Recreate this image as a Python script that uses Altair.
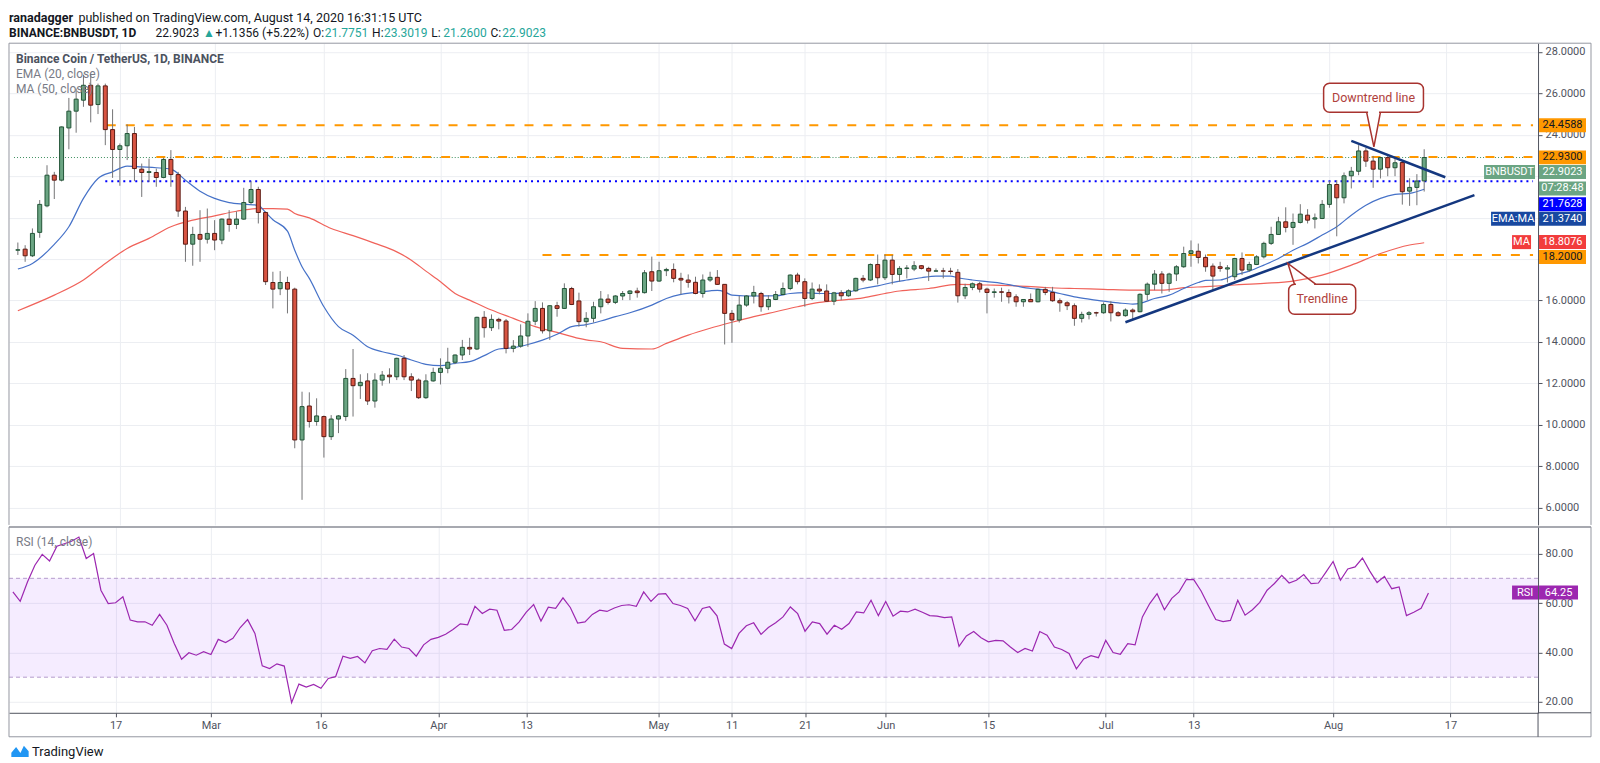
import altair as alt
import pandas as pd

# ------------------------------------------------------------------ data
START_DATE = "2020-02-03"      # first candle
AXIS_ZERO = "2020-02-17"       # day 0 of the x axis

OPEN = [18.43, 18.48, 18.16, 19.29, 20.57, 22.05, 21.81, 24.33, 25.14, 25.67,
        26.39, 25.46, 26.36, 24.25, 23.29, 23.47, 24.06, 22.34, 22.18, 22.18,
        21.94, 22.81, 22.08, 20.32, 18.72, 19.19, 18.96, 19.24, 18.92, 19.93,
        19.67, 19.93, 20.73, 21.36, 20.25, 16.87, 16.57, 16.87, 16.55, 9.27,
        10.91, 10.16, 10.4, 9.43, 10.28, 10.4, 12.24, 11.89, 12.12, 11.15,
        12.16, 12.4, 12.32, 13.21, 12.32, 12.16, 11.31, 12.12, 12.53, 12.73,
        13.02, 13.37, 13.74, 13.66, 15.19, 14.69, 15.09, 15.01, 13.69, 13.8,
        14.29, 15.0, 15.62, 14.54, 15.75, 15.62, 16.58, 15.98, 14.98,
        15.14, 15.7, 16.07, 15.91, 16.22, 16.34, 16.46, 16.38, 17.39, 16.94,
        17.44, 17.5, 17.07, 16.99, 16.88, 16.34, 16.99, 17.12, 16.78, 15.38,
        15.06, 15.78, 16.22, 16.34, 15.7, 16.05, 16.29, 16.58, 17.23, 16.91,
        16.1, 16.55, 16.46, 15.97, 16.37, 16.23, 16.47, 17.07, 16.99, 17.74,
        17.1, 17.95, 17.26,
        17.55, 17.52, 17.68, 17.55, 17.42, 17.43, 17.42, 17.36, 16.23, 16.63,
        16.81, 16.55, 16.39, 16.42, 16.39, 16.18, 15.94, 16.05, 15.94, 16.54,
        16.39, 15.99, 15.89, 15.75, 15.14, 15.33, 15.41, 15.41, 15.81, 15.41,
        15.27, 15.54, 15.46, 16.3, 16.79, 17.28, 16.83, 17.28, 17.63, 18.27,
        18.38, 18.08,
        17.66, 17.63, 17.52, 17.15, 18.03, 17.47, 17.74, 18.11, 18.76, 19.19,
        19.8, 19.53, 19.77, 20.12, 19.93, 19.96, 20.64, 21.6, 20.96, 22.02,
        22.24, 23.22, 22.73, 22.34, 22.9, 22.41, 22.66, 21.28, 21.46, 21.7751]
HIGH = [18.8, 18.67, 19.48, 20.85, 22.53, 22.21, 24.4, 25.78, 26.23, 26.9,
        26.95, 26.47, 26.47, 25.23, 23.58, 24.5, 24.38, 22.61, 22.85, 22.37,
        22.9, 23.26, 22.21, 20.52, 19.56, 20.36, 20.44, 19.88, 19.96, 20.36,
        20.3, 21.44, 21.76, 21.49, 20.3, 17.39, 17.42, 17.15, 16.62, 11.6,
        11.57, 11.28, 10.45, 10.47, 10.47, 12.69, 13.66, 12.44, 12.49, 12.49,
        12.6, 12.73, 13.24, 13.37, 12.49, 12.24, 12.44, 12.76, 13.21, 13.72,
        13.4, 14.1, 14.2, 15.22, 15.49, 15.33, 15.17, 15.11, 14.09, 14.85,
        15.38, 15.97, 15.91, 15.78, 15.94, 16.83, 16.66, 16.38, 15.44,
        15.94, 16.46, 16.3, 16.26, 16.46, 16.5, 16.62, 17.47, 18.12, 17.87,
        17.58, 17.79, 17.34, 17.26, 17.15, 17.26, 17.39, 17.47, 16.78, 15.54,
        16.22, 16.26, 16.71, 16.42, 16.26, 16.46, 16.87, 17.26, 17.34, 17.07,
        16.87, 16.78, 16.78, 16.42, 16.5, 16.54, 17.1, 17.23, 17.79, 18.22,
        18.22, 18.2, 17.66,
        17.71, 17.9, 17.71, 17.63, 17.55, 17.58, 17.58, 17.52, 16.81, 16.87,
        16.9, 16.62, 16.58, 16.62, 16.54, 16.3, 16.07, 16.34, 16.58, 16.66,
        16.66, 16.1, 15.97, 15.86, 15.46, 15.49, 15.46, 15.91, 15.97, 15.49,
        15.62, 15.62, 16.35, 16.87, 17.47, 17.42, 17.34, 17.71, 18.6, 18.9,
        18.75, 18.22,
        17.79, 17.87, 17.71, 18.06, 18.32, 17.87, 18.19, 18.84, 19.56, 20.04,
        20.5, 20.2, 20.65, 20.41, 20.2, 20.85, 21.76, 21.81, 22.18, 22.45,
        23.5, 23.37, 22.98, 22.93, 22.98, 22.9, 22.73, 21.9, 22.1, 23.3019]
LOW = [18.2, 17.87, 18.1, 19.03, 20.5, 20.9, 21.75, 23.3, 24.1, 25.35,
       24.6, 25.0, 23.5, 21.92, 21.54, 22.78, 21.76, 21.0, 21.73, 21.49,
       21.9, 21.49, 20.04, 17.87, 17.68, 17.87, 18.75, 18.43, 18.72, 19.32,
       19.45, 19.9, 20.64, 19.72, 16.75, 15.62, 16.26, 15.38, 8.87, 6.38,
       9.87, 9.96, 8.42, 9.27, 9.6, 10.19, 10.4, 11.25, 10.96, 10.83,
       11.89, 12.0, 12.16, 12.16, 11.63, 11.25, 11.25, 12.08, 11.95, 12.49,
       12.93, 13.13, 13.37, 13.61, 14.21, 14.53, 14.61, 13.45, 13.5, 13.72,
       13.77, 14.81, 14.41, 14.1, 15.22, 15.59, 15.78, 14.74, 14.71,
       14.94, 15.38, 15.81, 15.83, 16.02, 16.02, 16.14, 16.34, 16.46, 16.9,
       17.18, 16.88, 16.3, 16.62, 16.3, 16.14, 16.9, 16.75, 13.88, 13.96,
       14.94, 15.7, 15.86, 15.46, 15.54, 16.02, 16.26, 16.5, 16.78, 15.7,
       16.02, 16.3, 15.94, 15.78, 16.02, 16.18, 16.42, 16.88, 16.94, 16.78,
       16.99, 16.78, 16.91,
       17.07, 17.42, 17.5, 16.94, 17.39, 17.07, 17.26, 15.9, 16.07, 16.5,
       16.39, 15.38, 16.14, 15.94, 15.86, 15.7, 15.7, 15.94, 15.91, 16.26,
       15.94, 15.46, 15.54, 14.78, 14.94, 15.09, 15.23, 15.36, 14.99, 15.23,
       15.22, 15.09, 15.43, 16.02, 16.5, 16.34, 16.42, 16.94, 17.58, 17.63,
       17.79, 17.39,
       16.5, 17.39, 16.87, 16.99, 17.23, 17.39, 17.71, 18.03, 18.68, 19.19,
       19.29, 18.69, 19.72, 19.72, 19.48, 19.93, 20.48, 19.1, 20.69, 21.41,
       22.05, 22.45, 21.44, 21.89, 22.0, 22.0, 20.63, 20.57, 20.6, 21.26]
CLOSE = [18.45, 18.16, 19.24, 20.64, 22.05, 21.81, 24.38, 25.14, 25.72, 26.39,
         25.43, 26.36, 24.25, 23.29, 23.47, 24.06, 22.37, 22.18, 22.22, 21.94,
         22.81, 22.08, 20.32, 18.72, 19.19, 18.96, 19.24, 18.92, 19.93, 19.67,
         19.93, 20.73, 21.36, 20.25, 16.91, 16.55, 16.87, 16.55, 9.27, 10.88,
         10.16, 10.43, 9.43, 10.28, 10.43, 12.24, 11.89, 12.05, 11.15, 12.16,
         12.4, 12.32, 13.21, 12.32, 12.16, 11.31, 12.12, 12.53, 12.73, 13.02,
         13.37, 13.74, 13.66, 15.19, 14.69, 15.09, 15.01, 13.69, 13.8, 14.29,
         15.0, 15.62, 14.54, 15.75, 15.62, 16.58, 15.81, 14.98, 15.14,
         15.7, 16.07, 15.91, 16.22, 16.34, 16.46, 16.38, 17.34, 16.94, 17.44,
         17.5, 17.07, 16.99, 16.88, 16.34, 16.99, 17.12, 16.78, 15.38, 15.06,
         15.78, 16.22, 16.39, 15.7, 16.05, 16.29, 16.58, 17.23, 16.91, 16.1,
         16.55, 16.46, 15.97, 16.37, 16.23, 16.47, 17.07, 16.99, 17.74, 17.1,
         17.95, 17.26, 17.55,
         17.57, 17.68, 17.55, 17.42, 17.43, 17.42, 17.4, 16.23, 16.63, 16.81,
         16.55, 16.39, 16.42, 16.4, 16.18, 15.94, 16.05, 15.94, 16.54, 16.39,
         15.99, 15.89, 15.75, 15.14, 15.33, 15.41, 15.4, 15.81, 15.41, 15.27,
         15.54, 15.46, 16.3, 16.79, 17.28, 16.83, 17.28, 17.63, 18.27, 18.4,
         18.08, 17.63,
         17.18, 17.55, 17.58, 18.03, 17.47, 17.74, 18.11, 18.76, 19.19, 19.8,
         19.53, 19.77, 20.17, 19.88, 19.99, 20.64, 21.6, 20.96, 22.02, 22.24,
         23.22, 22.73, 22.34, 22.9, 22.41, 22.65, 21.25, 21.46, 21.77, 22.9023]

RSI = [64.5, 60.7, 68.6, 75.3, 79.7, 77.0, 83.0, 84.0, 85.0, 86.7,
       78.0, 80.0, 65.2, 59.8, 60.1, 62.5, 53.1, 52.4, 52.4, 51.0,
       55.4, 51.0, 43.6, 37.3, 39.9, 38.9, 40.3, 39.2, 45.3, 44.0,
       45.7, 50.1, 53.3, 47.7, 34.6, 33.5, 35.4, 34.5, 19.7, 27.2,
       26.0, 27.1, 25.5, 29.5, 30.2, 38.5, 37.6, 38.4, 35.8, 40.7,
       41.6, 41.3, 45.4, 42.2, 41.6, 38.5, 43.1, 45.3, 46.1, 47.4,
       49.3, 51.6, 51.2, 58.7, 55.8, 57.5, 57.1, 49.0, 49.3, 52.3,
       56.3, 59.4, 52.7, 58.3, 57.9, 62.1, 58.2, 51.9, 52.4, 55.4,
       57.1, 56.6, 58.0, 59.0, 59.3, 58.7, 64.5, 60.7, 63.6, 63.8,
       59.8, 59.0, 57.8, 52.8, 57.8, 58.5, 54.8, 43.4, 41.6, 47.7,
       50.8, 52.0, 47.3, 50.1, 52.0,
       54.4, 58.4, 55.7, 48.6, 52.4, 51.7, 47.4, 51.0, 49.4, 51.7,
       56.4, 56.0, 61.1, 54.9, 60.6, 54.7, 56.7, 56.4, 57.5, 56.3,
       54.9, 54.7, 54.1, 54.4, 42.5, 46.7, 48.5, 46.0, 44.3, 44.9,
       44.7, 42.2, 40.0, 41.6, 40.6, 48.5, 47.0, 42.2, 41.2, 39.6,
       33.4, 37.4, 38.7, 37.9, 44.9, 40.0, 39.3, 43.6, 43.1, 54.4,
       59.8, 63.8, 57.3, 61.9, 64.5, 69.5, 69.5, 64.9, 59.0, 53.3,
       52.5, 53.0, 61.1, 55.1, 57.3, 60.3, 65.2, 67.9, 71.2, 68.1,
       69.2, 71.5, 67.9, 68.1, 72.4, 76.8, 69.2, 73.8, 74.6, 78.2,
       72.9, 68.3, 70.8, 65.8, 66.5, 54.9, 56.3, 57.9, 64.1]

# EMA(20) and MA(50) (x = days from 17 Feb)
EMA_DAY = [-14, -12, -9, -7, -5, -3, -1, 1, 3, 5, 7, 9, 11, 13, 15, 17, 19, 20, 21,
           23, 24, 25, 26, 28, 30, 32, 34, 36, 38, 40, 42, 44, 46, 48, 50, 52, 54,
           56, 58, 60, 62, 64, 66, 68, 70, 73, 75, 77, 79, 81, 82, 83, 84, 86, 88,
           90, 92, 94, 96, 98, 100, 102, 104, 106, 108, 110, 112, 114, 115, 117,
           119, 121, 123, 125, 127, 129, 131, 133, 135, 137, 139, 140, 142, 144,
           146, 148, 149, 151, 153, 155, 157, 159, 161, 163, 165, 167, 169, 171,
           173, 175, 177, 179]
EMA_VAL = [17.52, 17.79, 18.71, 19.56, 20.93, 21.89, 22.21, 22.49, 22.45, 22.41,
           22.34, 21.81, 21.28, 20.93, 20.73, 20.65, 20.6, 20.25, 19.9, 19.35,
           18.43, 17.63, 17.07, 15.7, 14.74, 14.33, 13.77, 13.53, 13.37, 13.13,
           12.92, 12.86, 12.97, 13.05, 13.34, 13.66, 13.72, 13.88, 14.09, 14.37,
           14.74, 14.84, 15.01, 15.22, 15.41, 15.78, 16.1, 16.3, 16.39, 16.47,
           16.49, 16.42, 16.26, 16.22, 16.22, 16.23, 16.34, 16.38, 16.34, 16.34,
           16.42, 16.58, 16.71, 16.87, 16.99, 17.1, 17.18, 17.18, 17.1, 16.99,
           16.91, 16.83, 16.7, 16.58, 16.5, 16.34, 16.18, 16.07, 15.97, 15.89,
           15.83, 15.86, 16.1, 16.26, 16.58, 16.87, 16.97, 16.99, 17.23, 17.42,
           17.71, 18.03, 18.43, 18.76, 19.16, 19.56, 20.12, 20.6, 20.93, 21.12,
           21.17, 21.37]
MA_DAY = [-14, -9, -5, -2, 1, 4, 7, 10, 13, 16, 19, 21, 23, 24, 26, 29, 32, 35, 38,
          40, 42, 44, 46, 48, 51, 54, 57, 60, 63, 64, 66, 69, 73, 75, 78, 81, 84,
          87, 90, 93, 96, 99, 102, 105, 107, 111, 115, 119, 123, 127, 131, 135,
          139, 143, 146, 149, 153, 157, 161, 165, 169, 173, 177, 179]
MA_VAL = [15.51, 16.26, 16.99, 17.79, 18.51, 19.0, 19.56, 19.88, 20.09, 20.31,
          20.44, 20.44, 20.41, 20.2, 19.99, 19.48, 19.13, 18.76, 18.35, 17.95,
          17.42, 16.91, 16.34, 16.02, 15.54, 15.14, 14.74, 14.46, 14.17, 14.1,
          14.01, 13.69, 13.66, 13.93, 14.33, 14.66, 14.95, 15.22, 15.46, 15.7,
          15.91, 16.02, 16.13, 16.34, 16.46, 16.58, 16.78, 16.75, 16.71, 16.63,
          16.58, 16.54, 16.5, 16.5, 16.62, 16.67, 16.75, 16.83, 16.94, 17.23,
          17.71, 18.27, 18.68, 18.79]

TICK_DAY = [0, 13, 28, 44, 56, 74, 84, 94, 105, 119, 135, 147, 166, 182]
TICK_LABEL = ["17", "Mar", "16", "Apr", "13", "May", "11", "21", "Jun", "15",
              "Jul", "13", "Aug", "17"]
PRICE_TICKS = [6, 8, 10, 12, 14, 16, 18, 20, 22, 24, 26, 28]
PRICE_TICKS_HIDDEN = [18, 20, 22]
RSI_TICKS = [20, 40, 60, 80]

LEVELS = [24.4588, 22.93, 18.2]
LEVEL_FROM = [-1.8, 5.0, 58.0]
SUPPORT = 21.7628
SUPPORT_FROM = -2.0
LAST_PRICE = 22.9023
EMA_LAST, MA_LAST, RSI_LAST = 21.3740, 18.8076, 64.25

TREND_NAME = ["up", "up", "down", "down"]
TREND_DAY = [138.0, 185.9, 169.0, 181.9]
TREND_PRICE = [14.95, 21.09, 23.71, 21.95]

CALLOUT_TEXT = ["Downtrend line", "Trendline"]
CALLOUT_X1 = [165.2, 160.4]
CALLOUT_X2 = [178.9, 169.6]
CALLOUT_TOP = [26.49, 16.79]
CALLOUT_BOT = [25.09, 15.34]
CALLOUT_EDGE = [25.09, 16.79]          # edge the pointer leaves from
CALLOUT_BASE_L = [171.1, 161.2]
CALLOUT_BASE_R = [173.0, 164.1]
CALLOUT_TIP_DAY = [172.1, 160.3]
CALLOUT_TIP_PRICE = [23.42, 17.79]

# ------------------------------------------------------------------ layout / style
W, H1, H2, RW, XB = 1530, 482, 186, 53, 24
X_MIN, X_MAX = -14.53, 193.94
P_MIN, P_MAX = 5.17, 28.42
R_MIN, R_MAX = 15.6, 90.8
P_PX = H1 / (P_MAX - P_MIN)
R_PX = H2 / (R_MAX - R_MIN)

FONT = "Roboto"
GRID = "#eceef2"
DARK = "#50535e"
TXT = "#131722"
FRAME = "#9598a1"
TEAL = "#26a69a"
UP_FILL, UP_LINE = "#6ba583", "#225437"
DN_FILL, DN_LINE = "#d75442", "#5b1a13"
WICK = "#737375"
ORANGE = "#ff9800"
GREEN = "#6ba583"
BLUE = "#0000ff"
NAVY = "#1848a0"
RED = "#f23c3c"
PURPLE = "#9c27b0"
EMA_COL = "#4672c8"
MA_COL = "#f0625a"
TREND_COL = "#14377f"
CALLOUT = "#a8332f"

# ------------------------------------------------------------------ frames
dates = pd.date_range(START_DATE, periods=len(OPEN), freq="D")
zero = pd.Timestamp(AXIS_ZERO)
DAY = [(d - zero).days for d in dates]
candles = pd.DataFrame(dict(day=DAY, open=OPEN, high=HIGH, low=LOW, close=CLOSE))
candles["dir"] = ["up" if c >= o else "down" for o, c in zip(OPEN, CLOSE)]
rsi_df = pd.DataFrame(dict(day=DAY, rsi=RSI))
ema_df = pd.DataFrame(dict(day=EMA_DAY, value=EMA_VAL))
ma_df = pd.DataFrame(dict(day=MA_DAY, value=MA_VAL))
trend_df = pd.DataFrame(dict(name=TREND_NAME, day=TREND_DAY, price=TREND_PRICE))
levels_df = pd.DataFrame(dict(start=LEVEL_FROM, end=[X_MAX] * len(LEVELS), price=LEVELS))
support_df = pd.DataFrame(dict(start=[SUPPORT_FROM], end=[X_MAX], price=[SUPPORT]))
last_df = pd.DataFrame(dict(start=[X_MIN], end=[X_MAX], price=[LAST_PRICE]))
box_df = pd.DataFrame(dict(text=CALLOUT_TEXT, x1=CALLOUT_X1, x2=CALLOUT_X2,
                           top=CALLOUT_TOP, bot=CALLOUT_BOT))
box_df["cx"] = (box_df.x1 + box_df.x2) / 2
box_df["cy"] = (box_df.top + box_df.bot) / 2
gap_df = pd.DataFrame(dict(b1=[b + 0.2 for b in CALLOUT_BASE_L],
                           b2=[b - 0.2 for b in CALLOUT_BASE_R], y=CALLOUT_EDGE))
ptr_rows = []
for i, t in enumerate(CALLOUT_TEXT):
    ptr_rows.append(dict(name=t, k=0, day=CALLOUT_BASE_L[i], price=CALLOUT_EDGE[i]))
    ptr_rows.append(dict(name=t, k=1, day=CALLOUT_TIP_DAY[i], price=CALLOUT_TIP_PRICE[i]))
    ptr_rows.append(dict(name=t, k=2, day=CALLOUT_BASE_R[i], price=CALLOUT_EDGE[i]))
ptr_df = pd.DataFrame(ptr_rows)
ONE = pd.DataFrame({"k": [0]})

# ------------------------------------------------------------------ scales / axes
x_scale = alt.Scale(domain=[X_MIN, X_MAX], nice=False, zero=False)
p_scale = alt.Scale(domain=[P_MIN, P_MAX], nice=False, zero=False)
r_scale = alt.Scale(domain=[R_MIN, R_MAX], nice=False, zero=False)

label_expr_x = "".join(f"datum.value == {d} ? '{l}' : " for d, l in zip(TICK_DAY, TICK_LABEL)) + "''"
hidden = ",".join(str(v) for v in PRICE_TICKS_HIDDEN)
label_expr_p = f"indexof([{hidden}], datum.value) >= 0 ? '' : datum.label"

x_axis_grid = alt.Axis(values=TICK_DAY, grid=True, gridColor=GRID, labels=False,
                       ticks=False, domain=False, title=None)
x_axis_full = alt.Axis(values=TICK_DAY, grid=True, gridColor=GRID, labelExpr=label_expr_x,
                       labelFlush=False, labelOverlap=False, tickSize=4, tickColor=DARK,
                       domainColor=DARK, labelColor=DARK, labelFontSize=11,
                       labelPadding=3, title=None)
p_axis = alt.Axis(orient="right", values=PRICE_TICKS, format=".4f", labelExpr=label_expr_p,
                  grid=True, gridColor=GRID, domainColor=DARK, tickColor=DARK, tickSize=4,
                  labelColor=DARK, labelFontSize=11, labelPadding=3, title=None)
r_axis = alt.Axis(orient="right", values=RSI_TICKS, format=".2f", grid=True, gridColor=GRID,
                  domainColor=DARK, tickColor=DARK, tickSize=4, labelColor=DARK,
                  labelFontSize=11, labelPadding=3, title=None)


def PX(f):
    return alt.X(f"{f}:Q", scale=x_scale, axis=x_axis_grid)


def PY(f):
    return alt.Y(f"{f}:Q", scale=p_scale, axis=p_axis)


def RX(f):
    return alt.X(f"{f}:Q", scale=x_scale, axis=x_axis_full)


def RY(f):
    return alt.Y(f"{f}:Q", scale=r_scale, axis=r_axis)


def ptext(s, x, y, size=12, color=DARK, weight="normal", align="left"):
    return alt.Chart(ONE).mark_text(text=s, align=align, baseline="middle", fontSize=size,
                                    color=color, fontWeight=weight, font=FONT).encode(
        x=alt.value(x), y=alt.value(y))


def prule(x, y, x2=None, y2=None, color=FRAME, width=1.0):
    enc = {"x": alt.value(x), "y": alt.value(y)}
    if x2 is not None:
        enc["x2"] = alt.value(x2)
    if y2 is not None:
        enc["y2"] = alt.value(y2)
    return alt.Chart(ONE).mark_rule(color=color, strokeWidth=width).encode(**enc)


def label_box(center, text, bg, fg, x1, x2, yfn, px_per_unit, h=14, size=11):
    half = h / 2 / px_per_unit
    df = pd.DataFrame({"top": [center + half], "bot": [center - half], "c": [center]})
    rect = alt.Chart(df).mark_rect(color=bg).encode(
        x=alt.value(x1), x2=alt.value(x2), y=yfn("top"), y2="bot")
    txt = alt.Chart(df).mark_text(text=text, color=fg, fontSize=size, align="center",
                                  baseline="middle", font=FONT).encode(
        x=alt.value((x1 + x2) / 2), y=yfn("c"))
    return [rect, txt]


def est_w(s, size, bold=False):
    w = 0.0
    for ch in s:
        if ch.isdigit():
            e = 0.562
        elif ch in ".,:;":
            e = 0.25
        elif ch == " ":
            e = 0.248
        elif ch in "()":
            e = 0.342
        elif ch in "+":
            e = 0.567
        elif ch == "%":
            e = 0.733
        elif ch == "▲":
            e = 0.7
        elif ch.isupper():
            e = 0.65
        elif ch in "il":
            e = 0.245
        elif ch in "jtfr":
            e = 0.35
        elif ch in "mw":
            e = 0.85
        else:
            e = 0.54
        w += e * size
    return w * (1.06 if bold else 1.0)


def text_run(segments, x0, y, size):
    out, x = [], x0
    for s, col, bold, gap in segments:
        out.append(ptext(s, x, y, size=size, color=col, weight="bold" if bold else "normal"))
        x += est_w(s, size, bold) + gap
    return out

# ------------------------------------------------------------------ price pane
pl = []
pl.append(alt.Chart(last_df).mark_rule(color="#3d8f5e", strokeDash=[1, 2], strokeWidth=1).encode(
    x=PX("start"), x2="end", y=PY("price")))
pl.append(alt.Chart(levels_df).mark_rule(color=ORANGE, strokeDash=[9, 10], strokeWidth=2).encode(
    x=PX("start"), x2="end", y=PY("price")))
pl.append(alt.Chart(support_df).mark_rule(color=BLUE, strokeDash=[2, 4], strokeWidth=2).encode(
    x=PX("start"), x2="end", y=PY("price")))
pl.append(alt.Chart(ma_df).mark_line(color=MA_COL, strokeWidth=1.2, interpolate="monotone").encode(
    x=PX("day"), y=PY("value")))
pl.append(alt.Chart(ema_df).mark_line(color=EMA_COL, strokeWidth=1.2, interpolate="monotone").encode(
    x=PX("day"), y=PY("value")))
pl.append(alt.Chart(candles).mark_rule(color=WICK, strokeWidth=1).encode(
    x=PX("day"), y=PY("low"), y2="high"))
pl.append(alt.Chart(candles).mark_bar(size=4, strokeWidth=1).encode(
    x=PX("day"), y=PY("open"), y2="close",
    fill=alt.Fill("dir:N", scale=alt.Scale(domain=["up", "down"], range=[UP_FILL, DN_FILL]), legend=None),
    stroke=alt.Stroke("dir:N", scale=alt.Scale(domain=["up", "down"], range=[UP_LINE, DN_LINE]), legend=None)))
pl.append(alt.Chart(trend_df).mark_line(color=TREND_COL, strokeWidth=2.5).encode(
    x=PX("day"), y=PY("price"), detail="name:N"))
# callouts
pl.append(alt.Chart(box_df).mark_rect(cornerRadius=6, fill="white", stroke=CALLOUT, strokeWidth=1.5).encode(
    x=PX("x1"), x2="x2", y=PY("top"), y2="bot"))
pl.append(alt.Chart(gap_df).mark_rule(color="white", strokeWidth=3).encode(
    x=PX("b1"), x2="b2", y=PY("y")))
pl.append(alt.Chart(ptr_df).mark_line(color=CALLOUT, strokeWidth=1.5).encode(
    x=PX("day"), y=PY("price"), detail="name:N", order="k:Q"))
pl.append(alt.Chart(box_df).mark_text(color="#b0413c", fontSize=12.5, font=FONT).encode(
    x=PX("cx"), y=PY("cy"), text="text:N"))

# right-hand price labels (centres where TradingView stacks them)
VB = [(24.46, "24.4588", ORANGE, TXT), (22.91, "22.9300", ORANGE, TXT),
      (22.20, f"{LAST_PRICE:.4f}", GREEN, "white"), (21.41, "07:28:48", GREEN, "white"),
      (20.65, f"{SUPPORT:.4f}", BLUE, "white"), (19.95, f"{EMA_LAST:.4f}", NAVY, "white"),
      (18.82, f"{MA_LAST:.4f}", RED, "white"), (18.10, "18.2000", ORANGE, TXT)]
for c, t, bg, fg in VB:
    pl += label_box(c, t, bg, fg, W + 1, W + 48, PY, P_PX)
pl += label_box(22.20, "BNBUSDT", GREEN, "white", W - 54, W - 3, PY, P_PX)
pl += label_box(19.95, "EMA:MA", NAVY, "white", W - 47, W - 3, PY, P_PX)
pl += label_box(18.82, "MA", RED, "white", W - 26, W - 7, PY, P_PX)

# legend
pl.append(ptext("Binance Coin / TetherUS, 1D, BINANCE", 7, 16, size=12, color="#4c525e", weight="bold"))
pl.append(ptext("EMA (20, close)", 7, 31, size=12, color="#787b86"))
pl.append(ptext("MA (50, close)", 7, 46, size=12, color="#787b86"))

# header above the frame
pl += text_run([("ranadagger", TXT, True, 3),
                ("published on TradingView.com, August 14, 2020 16:31:15 UTC", TXT, False, 0)],
               0, -25, 12.5)
pl += text_run([("BINANCE:BNBUSDT, 1D", TXT, True, 6), ("22.9023", TXT, False, 4),
                ("▲", TEAL, False, 4), ("+1.1356 (+5.22%)", TXT, False, 4),
                ("O:", TXT, False, 1), ("21.7751", TEAL, False, 4),
                ("H:", TXT, False, 1), ("23.3019", TEAL, False, 4),
                ("L:", TXT, False, 1), ("21.2600", TEAL, False, 4),
                ("C:", TXT, False, 1), ("22.9023", TEAL, False, 0)],
               0, -10, 12)

# frame
pl.append(prule(0, 0, x2=W + RW))
pl.append(prule(0, 0, y2=H1))
pl.append(prule(W + RW, 0, y2=H1))

price = alt.layer(*pl).properties(width=W, height=H1)

# ------------------------------------------------------------------ RSI pane
band_df = pd.DataFrame({"hi": [70], "lo": [30]})
band_lines = pd.DataFrame({"v": [70, 30]})
rl = []
rl.append(alt.Chart(band_df).mark_rect(color="#9428ff", opacity=0.09).encode(
    x=alt.value(0), x2=alt.value(W), y=RY("hi"), y2="lo"))
rl.append(alt.Chart(band_lines).mark_rule(color="#b49bcc", strokeDash=[4, 3], strokeWidth=1).encode(
    x=alt.value(0), x2=alt.value(W), y=RY("v")))
rl.append(alt.Chart(rsi_df).mark_line(color=PURPLE, strokeWidth=1.2).encode(
    x=RX("day"), y=RY("rsi")))
rl.append(ptext("RSI (14, close)", 7, 15, size=12, color="#787b86"))
rl += label_box(RSI_LAST, "RSI", PURPLE, "white", W - 26, W, RY, R_PX)
rl += label_box(RSI_LAST, f"{RSI_LAST:.2f}", PURPLE, "white", W + 1, W + 40, RY, R_PX)
# frame
rl.append(prule(0, 0, x2=W + RW, color="#8a8d96", width=1.5))
rl.append(prule(0, 0, y2=H2 + XB))
rl.append(prule(W + RW, 0, y2=H2 + XB))
rl.append(prule(0, H2 + XB, x2=W + RW))
rl.append(prule(W, H2, y2=H2 + XB, color=DARK))
rl.append(prule(W, H2, x2=W + RW, color=DARK))
# footer
rl.append(alt.Chart(ONE).mark_point(
    shape="M-1,0.6 L-1,0.1 L-0.45,-0.55 L0.05,0.15 L0.45,-0.7 L1,-0.05 L1,0.6 Z",
    size=300, filled=True, color="#2196f3", opacity=1).encode(x=alt.value(11), y=alt.value(H2 + 39)))
rl.append(ptext("TradingView", 23, H2 + 39, size=13, color=TXT))

rsi = alt.layer(*rl).properties(width=W, height=H2)

chart = (alt.vconcat(price, rsi, spacing=0,
                     padding={"top": 4, "left": 0, "right": 0, "bottom": 0})
         .configure(font=FONT, background="white")
         .configure_axis(labelFont=FONT)
         .configure_view(stroke=None))

chart.save("out.html", embed_options={"renderer": "svg", "actions": False})
